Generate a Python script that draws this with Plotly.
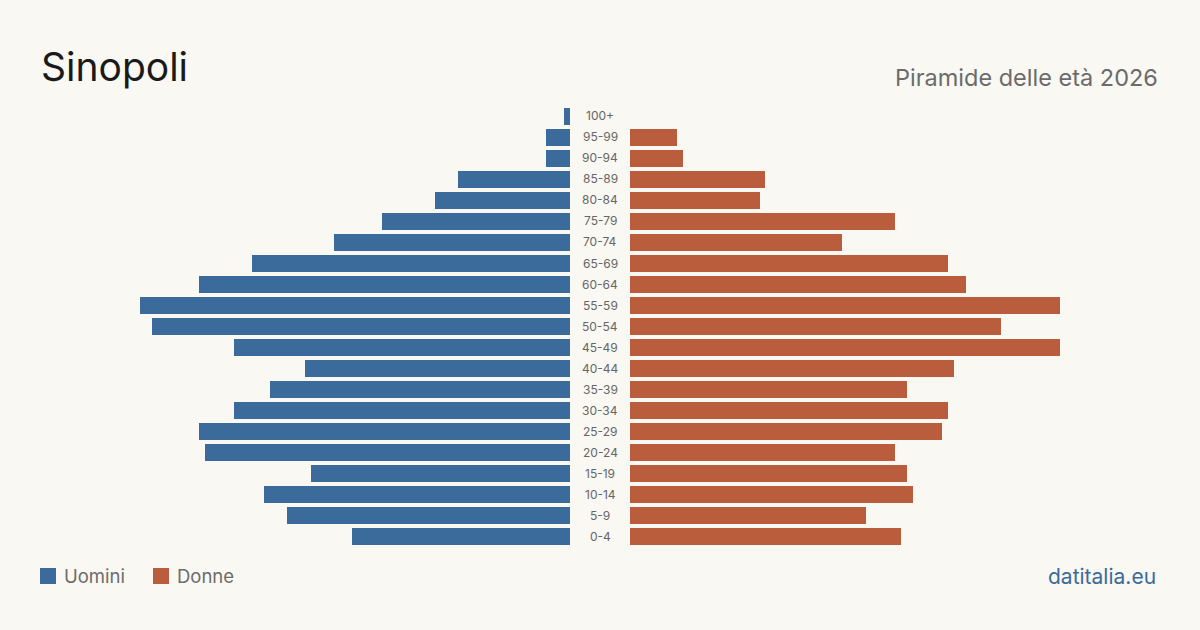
import plotly.graph_objects as go

age_groups = ["0-4", "5-9", "10-14", "15-19", "20-24", "25-29", "30-34", "35-39",
              "40-44", "45-49", "50-54", "55-59", "60-64", "65-69", "70-74", "75-79",
              "80-84", "85-89", "90-94", "95-99", "100+"]
men = [37, 48, 52, 44, 62, 63, 57, 51, 45, 57, 71, 73, 63, 54, 40, 32, 23, 19, 4, 4, 1]
women = [46, 40, 48, 47, 45, 53, 54, 47, 55, 73, 63, 73, 57, 54, 36, 45, 22, 23, 9, 8, 0]

title_text = "Sinopoli"
subtitle_text = "Piramide delle età 2026"
legend_labels = ["Uomini", "Donne"]
source_text = "datitalia.eu"

BLUE = "#3B6B9A"
ORANGE = "#B95D3D"
BG = "#F9F8F3"
FONT = "Inter, Liberation Sans, sans-serif"

W, H = 1200, 630
vmax = max(max(men), max(women))

fig = go.Figure()
fig.add_trace(go.Bar(y=age_groups, x=men, orientation="h", marker_color=BLUE,
                     marker_line_width=0,
                     width=0.81, xaxis="x", yaxis="y", name=legend_labels[0],
                     showlegend=False, hoverinfo="x+y"))
fig.add_trace(go.Bar(y=age_groups, x=women, orientation="h", marker_color=ORANGE,
                     marker_line_width=0,
                     width=0.81, xaxis="x2", yaxis="y", name=legend_labels[1],
                     showlegend=False, hoverinfo="x+y"))

y_bottom = 546.5
y_top = 105.5
fig.update_layout(
    width=W, height=H,
    margin=dict(l=0, r=0, t=0, b=0),
    paper_bgcolor=BG, plot_bgcolor=BG,
    font=dict(family=FONT),
    bargap=0,
    xaxis=dict(domain=[140 / W, 570 / W], range=[vmax, 0], visible=False, fixedrange=True),
    xaxis2=dict(domain=[630 / W, 1060 / W], range=[0, vmax], visible=False, fixedrange=True,
                anchor="y"),
    yaxis=dict(domain=[(H - y_bottom) / H, (H - y_top) / H], type="category",
               categoryorder="array", categoryarray=age_groups,
               range=[-0.5, len(age_groups) - 0.5], visible=False, fixedrange=True),
)

annotations = []
for g in age_groups:
    annotations.append(dict(x=600 / W, xref="paper", y=g, yref="y", text=g,
                            showarrow=False, xanchor="center", yanchor="middle",
                            font=dict(size=12, color="#666666", family=FONT)))

annotations.append(dict(x=39 / W, y=1 - 67 / H, xref="paper", yref="paper", text=title_text,
                        showarrow=False, xanchor="left", yanchor="middle",
                        font=dict(size=39, color="#1A1A1A", family=FONT)))
annotations.append(dict(x=1160 / W, y=1 - 77 / H, xref="paper", yref="paper", text=subtitle_text,
                        showarrow=False, xanchor="right", yanchor="middle",
                        font=dict(size=23.5, color="#6B6B6B", family=FONT)))
annotations.append(dict(x=62 / W, y=1 - 576 / H, xref="paper", yref="paper", text=legend_labels[0],
                        showarrow=False, xanchor="left", yanchor="middle",
                        font=dict(size=18.5, color="#6B6B6B", family=FONT)))
annotations.append(dict(x=175 / W, y=1 - 576 / H, xref="paper", yref="paper", text=legend_labels[1],
                        showarrow=False, xanchor="left", yanchor="middle",
                        font=dict(size=18.5, color="#6B6B6B", family=FONT)))
annotations.append(dict(x=1158 / W, y=1 - 576 / H, xref="paper", yref="paper", text=source_text,
                        showarrow=False, xanchor="right", yanchor="middle",
                        font=dict(size=21, color=BLUE, family=FONT)))

shapes = [
    dict(type="rect", xref="paper", yref="paper", x0=40 / W, x1=56 / W,
         y0=1 - 584 / H, y1=1 - 568 / H, fillcolor=BLUE, line=dict(width=0)),
    dict(type="rect", xref="paper", yref="paper", x0=153 / W, x1=169 / W,
         y0=1 - 584 / H, y1=1 - 568 / H, fillcolor=ORANGE, line=dict(width=0)),
]
fig.update_layout(annotations=annotations, shapes=shapes)

fig.write_html("out.html", config={"displayModeBar": False})
